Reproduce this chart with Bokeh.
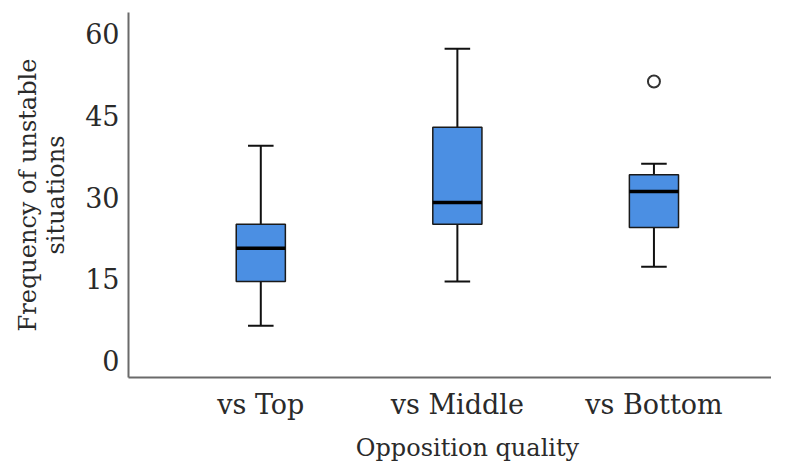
from bokeh.plotting import figure
from bokeh.models import FixedTicker, Range1d, Div
from bokeh.layouts import column
from bokeh.embed import file_html
from bokeh.resources import INLINE

categories = ["vs Top", "vs Middle", "vs Bottom"]
whisker_low = [6.4, 14.5, 17.2]
q1 = [14.5, 25.0, 24.4]
median = [20.6, 29.0, 31.0]
q3 = [25.0, 42.8, 34.1]
whisker_high = [39.4, 57.2, 36.1]
outlier_cat = ["vs Bottom"]
outlier_val = [51.2]
y_ticks = [0, 15, 30, 45, 60]
x_title = "Opposition quality"
y_title = "Frequency of unstable\nsituations"

FONT = "DejaVu Serif"
TXT = "#2a2a2a"
BOX = "#4b8fe3"

xpos = [i + 1 for i in range(len(categories))]
box_w = 0.25
cap_w = 0.13

p = figure(width=771, height=432, output_backend="svg", toolbar_location=None,
           x_range=Range1d(0.327, 3.598), y_range=Range1d(-3.1, 63.85),
           min_border_left=128, min_border_right=0, min_border_top=12, min_border_bottom=55)
p.outline_line_color = None
p.xgrid.visible = False
p.ygrid.visible = False
p.background_fill_color = "white"
p.border_fill_color = "white"

# whiskers
p.segment(x0=xpos, y0=whisker_low, x1=xpos, y1=q1, line_color="#111111", line_width=2)
p.segment(x0=xpos, y0=q3, x1=xpos, y1=whisker_high, line_color="#111111", line_width=2)
# caps
p.segment(x0=[x - cap_w / 2 for x in xpos], y0=whisker_low, x1=[x + cap_w / 2 for x in xpos], y1=whisker_low,
          line_color="#111111", line_width=2)
p.segment(x0=[x - cap_w / 2 for x in xpos], y0=whisker_high, x1=[x + cap_w / 2 for x in xpos], y1=whisker_high,
          line_color="#111111", line_width=2)
# boxes
p.vbar(x=xpos, width=box_w, bottom=q1, top=q3, fill_color=BOX, line_color="#1a1a1a", line_width=1.5)
# medians
p.segment(x0=[x - box_w / 2 for x in xpos], y0=median, x1=[x + box_w / 2 for x in xpos], y1=median,
          line_color="#000000", line_width=3.5)
# outliers
ox = [xpos[categories.index(c)] for c in outlier_cat]
p.scatter(x=ox, y=outlier_val, size=12, marker="circle", fill_color="white", line_color="#333333", line_width=2)

# axes
p.xaxis.ticker = FixedTicker(ticks=xpos)
p.xaxis.major_label_overrides = {x: c for x, c in zip(xpos, categories)}
p.yaxis.ticker = FixedTicker(ticks=y_ticks)
for ax in (p.xaxis[0], p.yaxis[0]):
    ax.axis_line_color = "#6a6a6a"
    ax.axis_line_width = 2
    ax.major_tick_line_color = None
    ax.minor_tick_line_color = None
    ax.major_label_text_font = FONT
    ax.major_label_text_color = TXT
    ax.major_label_text_font_size = "27px"
    ax.axis_label_text_font = FONT
    ax.axis_label_text_font_size = "24px"
    ax.axis_label_text_font_style = "normal"
    ax.axis_label_text_color = TXT
    ax.axis_label_text_line_height = 1.0
p.yaxis.axis_label = y_title
p.xaxis.major_label_standoff = 5
p.yaxis.major_label_standoff = 3
p.yaxis.axis_label_standoff = 12

# x-axis title below the plot
xt = Div(text=x_title, width=771, height=22,
         styles={"font-family": FONT, "font-size": "24px", "line-height": "22px",
                 "color": TXT, "text-align": "center", "padding-left": "154px",
                 "box-sizing": "border-box", "white-space": "nowrap", "overflow": "visible"})

layout = column(p, xt, spacing=0)
open("out.html", "w").write(file_html(layout, INLINE))
